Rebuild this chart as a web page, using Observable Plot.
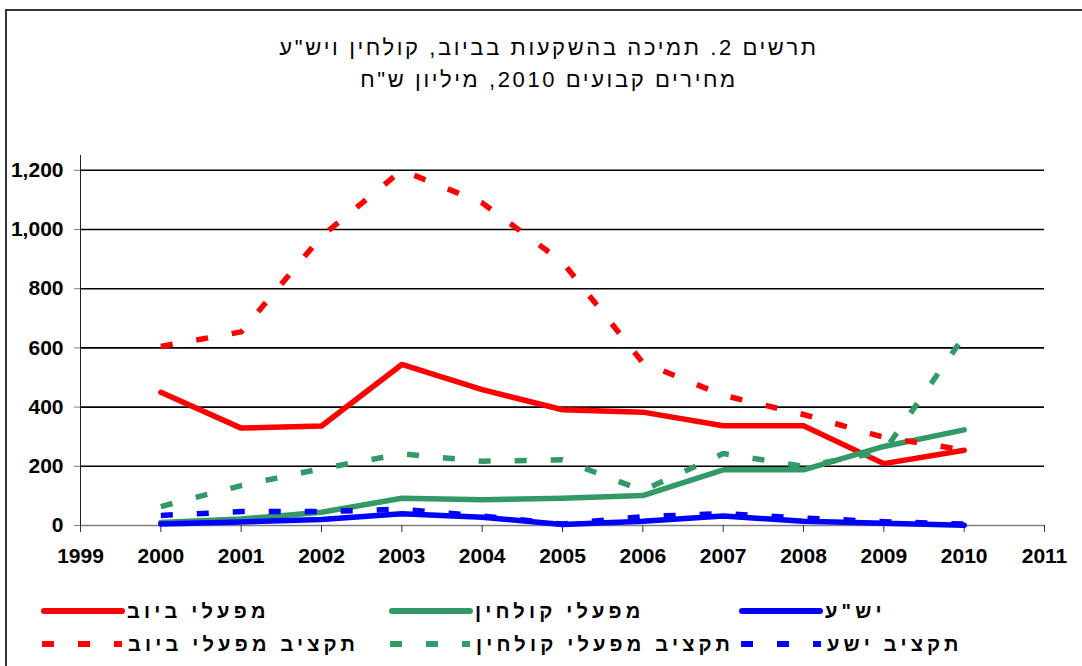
<!DOCTYPE html>
<html lang="he">
<head>
<meta charset="utf-8">
<script src="https://cdn.jsdelivr.net/npm/d3@7"></script>
<script src="https://cdn.jsdelivr.net/npm/@observablehq/plot@0.6"></script>
<style>
  html, body { margin: 0; padding: 0; background: #fff; }
  body { width: 1082px; height: 666px; overflow: hidden; position: relative; font-family: Arial, "Liberation Sans", sans-serif; }
  #frame { position: absolute; left: 5px; top: 9px; width: 1200px; height: 800px; border: 2px solid #333; box-sizing: border-box; }
  #title { position: absolute; left: 0; top: 32px; width: 1098px; text-align: center; direction: rtl; font-size: 22px; line-height: 32px; color: #000; letter-spacing: 2.6px; }
  #chart { position: absolute; left: 0; top: 140px; }
  .leg-text { position: absolute; direction: rtl; font-weight: bold; font-size: 20px; line-height: 20px; letter-spacing: 4.2px; color: #000; white-space: nowrap; }
  .leg-sw { position: absolute; }
</style>
</head>
<body>
<div id="frame"></div>
<div id="title">תרשים 2. תמיכה בהשקעות בביוב, קולחין ויש"ע<br>מחירים קבועים 2010, מיליון ש"ח</div>
<div id="chart"></div>
<div id="legend"></div>
<script>
// ---- data ----
const years = [2000, 2001, 2002, 2003, 2004, 2005, 2006, 2007, 2008, 2009, 2010];
const xTickLabels = [1999, 2000, 2001, 2002, 2003, 2004, 2005, 2006, 2007, 2008, 2009, 2010, 2011];
const yTickValues = [0, 200, 400, 600, 800, 1000, 1200];

const seriesNames = ["מפעלי ביוב", "מפעלי קולחין", 'יש"ע', "תקציב מפעלי ביוב", "תקציב מפעלי קולחין", "תקציב ישע"];
const sewage = [450, 329, 336, 544, 459, 391, 383, 337, 337, 209, 254];
const effluent = [10, 22, 45, 92, 87, 92, 101, 188, 188, 267, 323];
const yesha = [5, 12, 20, 40, 28, 3, 14, 32, 14, 8, 1];
const sewageBudget = [605, 654, 977, 1200, 1090, 890, 550, 440, 375, 298, 255];
const effluentBudget = [64, 135, 192, 242, 217, 222, 118, 243, 200, 250, 640];
const yeshaBudget = [34, 47, 47, 55, 32, 5, 30, 40, 25, 13, 5];
const seriesValues = [sewage, effluent, yesha, sewageBudget, effluentBudget, yeshaBudget];

// ---- styles ----
const colors = ["#FF0000", "#339966", "#0000FF", "#FF0000", "#339966", "#0000FF"];
const dashed = [false, false, false, true, true, true];
const legendPos = [[41, 611], [389, 611], [739, 611], [42, 644], [390, 644], [741, 644]];

const lineMarks = seriesNames.map((name, i) => {
  const rows = years.map((year, j) => ({year, value: seriesValues[i][j]}));
  return Plot.line(rows, {
    x: "year", y: "value",
    stroke: colors[i], strokeWidth: 5.5,
    strokeDasharray: dashed[i] ? "12,24" : null,
    strokeLinecap: dashed[i] ? "butt" : "round",
    strokeLinejoin: "round"
  });
});

const chart = Plot.plot({
  width: 1082,
  height: 440,
  marginLeft: 80,
  marginRight: 38,
  marginTop: 15,
  marginBottom: 55,
  x: {domain: [1999, 2011]},
  y: {domain: [0, 1250]},
  style: {fontFamily: "Arial, 'Liberation Sans', sans-serif", fontSize: "21px", fontWeight: "bold", color: "#000", background: "transparent", overflow: "visible"},
  marks: [
    Plot.ruleY(yTickValues.filter(v => v > 0), {stroke: "#000", strokeWidth: 1.6}),
    Plot.ruleY([0], {stroke: "#808080", strokeWidth: 1.6}),
    Plot.ruleX([1999], {stroke: "#222", strokeWidth: 1}),
    Plot.axisY({ticks: yTickValues, tickFormat: d3.format(","), tickSize: 6, tickPadding: 11, label: null, stroke: "#808080"}),
    Plot.axisX({ticks: xTickLabels, tickFormat: d => String(d), tickSize: 7, tickPadding: 16, label: null, stroke: "#333"}),
    ...lineMarks
  ]
});
document.getElementById("chart").appendChild(chart);

// ---- legend ----
const legend = document.getElementById("legend");
const ns = "http://www.w3.org/2000/svg";
seriesNames.forEach((name, i) => {
  const [lx, ly] = legendPos[i];
  const w = dashed[i] ? 80 : 84;
  const sw = document.createElementNS(ns, "svg");
  sw.setAttribute("width", w);
  sw.setAttribute("height", 10);
  sw.setAttribute("class", "leg-sw");
  sw.style.left = lx + "px";
  sw.style.top = (ly - 5) + "px";
  const ln = document.createElementNS(ns, "line");
  ln.setAttribute("x1", dashed[i] ? 0 : 3);
  ln.setAttribute("x2", dashed[i] ? w : w - 3);
  ln.setAttribute("y1", 5);
  ln.setAttribute("y2", 5);
  ln.setAttribute("stroke", colors[i]);
  ln.setAttribute("stroke-width", 6);
  ln.setAttribute("stroke-linecap", dashed[i] ? "butt" : "round");
  if (dashed[i]) ln.setAttribute("stroke-dasharray", "12,24");
  sw.appendChild(ln);
  legend.appendChild(sw);
  const t = document.createElement("div");
  t.className = "leg-text";
  t.textContent = name;
  t.style.left = (lx + 86) + "px";
  t.style.top = (ly - 10) + "px";
  legend.appendChild(t);
});
</script>
</body>
</html>
